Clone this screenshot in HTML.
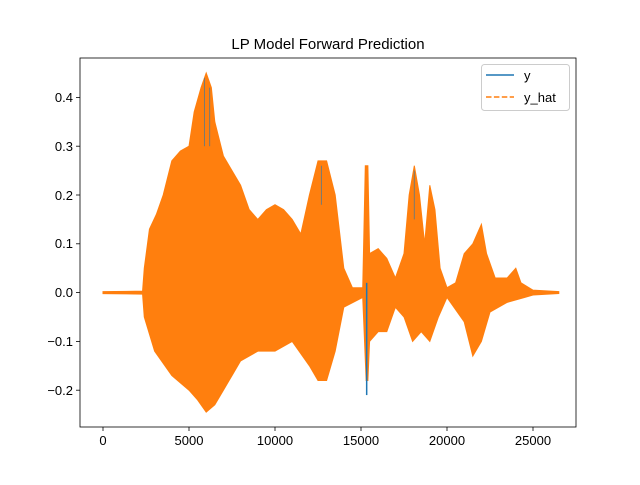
<!DOCTYPE html>
<html><head><meta charset="utf-8"><style>
body{margin:0;background:#fff}
text{font-family:"Liberation Sans","DejaVu Sans",sans-serif;font-size:13px;fill:#000}
</style></head><body>
<svg width="640" height="480" viewBox="0 0 640 480" xmlns="http://www.w3.org/2000/svg">
<rect width="640" height="480" fill="#fff"/>
<text x="328" y="49" text-anchor="middle" style="font-size:15px">LP Model Forward Prediction</text>
<g transform="translate(103,292.6) scale(0.0172,-488)">
<polygon fill="#ff7f0e" stroke="#ff7f0e" stroke-width="1" vector-effect="non-scaling-stroke" points="
0,0.002 2300,0.003 2400,0.05 2700,0.13 3100,0.16 3500,0.2 4000,0.27 4500,0.29 5000,0.3 5300,0.37 5700,0.42 6000,0.45 6300,0.42 6500,0.35 7000,0.28 7500,0.25 8000,0.22 8500,0.17 9000,0.15 9500,0.17 10000,0.18 10500,0.17 11000,0.15 11500,0.12 12000,0.2 12500,0.27 13000,0.27 13500,0.2 14000,0.05 14500,0.01 15100,0.01 15250,0.26 15400,0.26 15500,0.08 16000,0.09 16500,0.07 17000,0.03 17500,0.08 17800,0.2 18100,0.26 18400,0.2 18700,0.1 19000,0.22 19300,0.17 19600,0.05 20000,0.01 20500,0.02 21000,0.08 21500,0.1 22000,0.14 22300,0.08 22800,0.03 23500,0.03 24000,0.05 24300,0.02 25000,0.005 26500,0.002
26500,-0.002 25000,-0.005 24500,-0.01 23500,-0.02 22500,-0.04 22000,-0.1 21500,-0.13 21000,-0.06 20000,-0.01 19500,-0.05 19000,-0.1 18500,-0.08 18000,-0.1 17500,-0.05 17000,-0.03 16500,-0.08 16000,-0.08 15500,-0.1 15400,-0.18 15300,-0.18 15100,-0.01 14000,-0.03 13500,-0.12 13000,-0.18 12500,-0.18 12000,-0.15 11000,-0.1 10000,-0.12 9000,-0.12 8000,-0.14 7500,-0.17 7000,-0.2 6500,-0.23 6000,-0.245 5500,-0.22 5000,-0.2 4000,-0.17 3000,-0.12 2400,-0.05 2300,-0.003 0,-0.002"/>
<polyline fill="none" stroke="#1f77b4" stroke-width="1.5" vector-effect="non-scaling-stroke" points="15330,0.02 15330,-0.21"/>
<g stroke="#1f77b4" stroke-width="1" vector-effect="non-scaling-stroke" opacity="0.6">
<line x1="5900" y1="0.44" x2="5900" y2="0.3" vector-effect="non-scaling-stroke"/>
<line x1="6200" y1="0.42" x2="6200" y2="0.3" vector-effect="non-scaling-stroke"/>
<line x1="12700" y1="0.26" x2="12700" y2="0.18" vector-effect="non-scaling-stroke"/>
<line x1="18100" y1="0.25" x2="18100" y2="0.15" vector-effect="non-scaling-stroke"/>
</g>
</g>
<rect x="80" y="58" width="496" height="369" fill="none" stroke="#000" stroke-width="0.8"/>
<g stroke="#000" stroke-width="0.8">
<line x1="103" y1="427" x2="103" y2="431"/><line x1="189" y1="427" x2="189" y2="431"/><line x1="275" y1="427" x2="275" y2="431"/><line x1="361" y1="427" x2="361" y2="431"/><line x1="447" y1="427" x2="447" y2="431"/><line x1="533" y1="427" x2="533" y2="431"/>
<line x1="76" y1="97.4" x2="80" y2="97.4"/><line x1="76" y1="146.2" x2="80" y2="146.2"/><line x1="76" y1="195" x2="80" y2="195"/><line x1="76" y1="243.8" x2="80" y2="243.8"/><line x1="76" y1="292.6" x2="80" y2="292.6"/><line x1="76" y1="341.4" x2="80" y2="341.4"/><line x1="76" y1="390.2" x2="80" y2="390.2"/>
</g>
<g text-anchor="middle">
<text x="103" y="445">0</text><text x="189" y="445">5000</text><text x="275" y="445">10000</text><text x="361" y="445">15000</text><text x="447" y="445">20000</text><text x="533" y="445">25000</text>
</g>
<g text-anchor="end">
<text x="73" y="102">0.4</text><text x="73" y="151">0.3</text><text x="73" y="200">0.2</text><text x="73" y="248">0.1</text><text x="73" y="297">0.0</text><text x="73" y="346">−0.1</text><text x="73" y="395">−0.2</text>
</g>
<rect x="481.5" y="64.5" width="88" height="46" rx="3" fill="#fff" fill-opacity="0.8" stroke="#ccc"/>
<line x1="486" y1="75" x2="514" y2="75" stroke="#1f77b4" stroke-width="1.5"/>
<text x="524" y="80">y</text>
<line x1="486" y1="97" x2="514" y2="97" stroke="#ff7f0e" stroke-width="1.5" stroke-dasharray="5.5,2.4"/>
<text x="524" y="102">y_hat</text>
</svg>
</body></html>
